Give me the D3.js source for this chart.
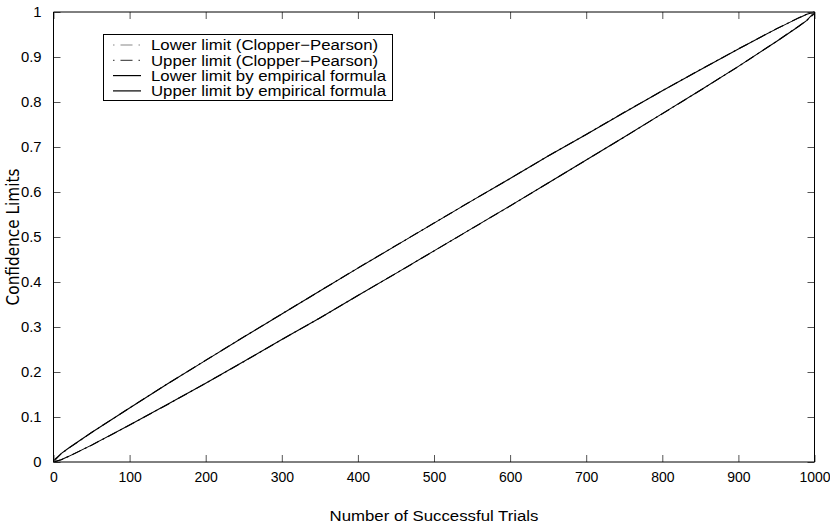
<!DOCTYPE html>
<html>
<head>
<meta charset="utf-8">
<script src="https://cdn.jsdelivr.net/npm/d3@7"></script>
<style>
  html, body { margin: 0; padding: 0; background: #fff; }
  svg { display: block; }
  text { font-family: "Liberation Sans", Arial, Helvetica, sans-serif; }
</style>
</head>
<body>
<svg id="chart" width="830" height="526"></svg>
<script>
// ---- data ----
const trials = [0, 10, 20, 50, 100, 150, 200, 250, 300, 350, 400, 450, 500, 550, 600, 650, 700, 750, 800, 850, 900, 950, 980, 990, 1000];
const lowerCP = [0, 0.0048, 0.0123, 0.0373, 0.0821, 0.128, 0.175, 0.223, 0.272, 0.320, 0.370, 0.419, 0.469, 0.519, 0.569, 0.620, 0.671, 0.722, 0.774, 0.826, 0.879, 0.9346, 0.9693, 0.9817, 0.9963];
const upperCP = [0.0037, 0.0183, 0.0307, 0.0654, 0.1203, 0.174, 0.226, 0.278, 0.329, 0.380, 0.431, 0.481, 0.531, 0.581, 0.630, 0.680, 0.728, 0.777, 0.825, 0.872, 0.918, 0.9627, 0.9877, 0.9952, 1];
const lowerEmp = [0, 0.0050, 0.0125, 0.0375, 0.0823, 0.1282, 0.1752, 0.2232, 0.2722, 0.3202, 0.3702, 0.4192, 0.4692, 0.5192, 0.5692, 0.6202, 0.6712, 0.7222, 0.7742, 0.8262, 0.8792, 0.9346, 0.9690, 0.9815, 1];
const upperEmp = [0, 0.0185, 0.0310, 0.0655, 0.1200, 0.1738, 0.2258, 0.2778, 0.3288, 0.3798, 0.4308, 0.4808, 0.5308, 0.5808, 0.6298, 0.6798, 0.7278, 0.7768, 0.8248, 0.8718, 0.9180, 0.9625, 0.9875, 0.9950, 1];
const xTicks = [0, 100, 200, 300, 400, 500, 600, 700, 800, 900, 1000];
const yTicks = [0, 0.1, 0.2, 0.3, 0.4, 0.5, 0.6, 0.7, 0.8, 0.9, 1];
const legendLabels = ["Lower limit (Clopper\u2212Pearson)", "Upper limit (Clopper\u2212Pearson)", "Lower limit by empirical formula", "Upper limit by empirical formula"];
const xTitle = "Number of Successful Trials";
const yTitle = "Confidence Limits";

// ---- layout ----
const svg = d3.select("#chart");
const L = 53.5, R = 814.5, T = 12, B = 462;
const x = d3.scaleLinear().domain([0, 1000]).range([L, R]);
const y = d3.scaleLinear().domain([0, 1]).range([B, T]);
const SX = 1.12; // horizontal stretch of the reference's text

const series = [
  { v: lowerCP, dash: "10,4,2,4", color: "#000" },
  { v: upperCP, dash: "10,4,2,4", color: "#000" },
  { v: lowerEmp, dash: null, color: "#000" },
  { v: upperEmp, dash: null, color: "#000" }
];

const line = d3.line().x(d => x(d[0])).y(d => y(d[1]));
series.forEach(s => {
  svg.append("path")
    .datum(trials.map((t, i) => [t, s.v[i]]))
    .attr("d", line)
    .attr("fill", "none")
    .attr("stroke", s.color)
    .attr("stroke-width", 1.1)
    .attr("stroke-dasharray", s.dash);
});

// ---- axes (ticks inward on all sides) ----
const tickLen = 7;
const fontSize = 14;
const xAxisB = d3.axisBottom(x).tickValues(xTicks).tickSizeInner(-tickLen).tickSizeOuter(0).tickPadding(tickLen + 3).tickFormat(d3.format("d"));
const xAxisT = d3.axisTop(x).tickValues(xTicks).tickSizeInner(-tickLen).tickSizeOuter(0).tickFormat("");
const yAxisL = d3.axisLeft(y).tickValues(yTicks).tickSizeInner(-tickLen).tickSizeOuter(0).tickPadding(tickLen + 5).tickFormat(d => d === 0 || d === 1 ? d3.format("d")(d) : d3.format(".1f")(d));
const yAxisR = d3.axisRight(y).tickValues(yTicks).tickSizeInner(-tickLen).tickSizeOuter(0).tickFormat("");

function style(g) {
  g.select(".domain").remove();
  g.selectAll(".tick line").attr("stroke", "#555").attr("stroke-width", 1);
  g.selectAll(".tick text").attr("fill", "#000").attr("font-size", fontSize);
}
function stretchX(g) {
  g.selectAll(".tick text").each(function () {
    const t = d3.select(this);
    const tx = +t.attr("x") || 0;
    t.attr("transform", `translate(${tx},0) scale(1.06,1) translate(${-tx},0)`);
  });
}
svg.append("g").attr("transform", `translate(0,${B})`).call(xAxisB).call(style);
svg.append("g").attr("transform", `translate(0,${T})`).call(xAxisT).call(style);
svg.append("g").attr("transform", `translate(${L},0)`).call(yAxisL).call(style).call(stretchX);
svg.append("g").attr("transform", `translate(${R},0)`).call(yAxisR).call(style);

// box
svg.append("line").attr("x1", L).attr("x2", R).attr("y1", T).attr("y2", T).attr("stroke", "#000").attr("stroke-width", 1);
svg.append("line").attr("x1", L).attr("x2", R).attr("y1", B).attr("y2", B).attr("stroke", "#000").attr("stroke-width", 1);
svg.append("line").attr("x1", L).attr("x2", L).attr("y1", T).attr("y2", B).attr("stroke", "#000").attr("stroke-width", 1);
svg.append("line").attr("x1", R).attr("x2", R).attr("y1", T).attr("y2", B).attr("stroke", "#000").attr("stroke-width", 1);

// titles
svg.append("text")
  .attr("transform", `translate(${(L + R) / 2},521) scale(${SX},1)`)
  .attr("text-anchor", "middle")
  .attr("font-size", 15)
  .text(xTitle);
svg.append("text")
  .attr("transform", `translate(19,${(T + B) / 2}) rotate(-90)`)
  .attr("text-anchor", "middle")
  .attr("font-size", 17)
  .style("font-family", "'Liberation Sans Narrow', 'DejaVu Sans Condensed', sans-serif")
  .style("font-stretch", "condensed")
  .text(yTitle);

// legend
const lg = svg.append("g");
const lgX = 103.5, lgY = 34.5, lgW = 289, lgH = 66;
lg.append("rect").attr("x", lgX).attr("y", lgY).attr("width", lgW).attr("height", lgH)
  .attr("fill", "#fff").attr("stroke", "#000").attr("stroke-width", 1);
const legendDash = ["1.5,6,12,6,1.5,100", "1.5,6,12,6,1.5,100", null, null];
const legendColor = ["#888", "#555", "#000", "#000"];
legendLabels.forEach((lab, i) => {
  const cy = lgY + 10.5 + i * 15.3;
  lg.append("line").attr("x1", 113).attr("x2", 141).attr("y1", cy).attr("y2", cy)
    .attr("stroke", legendColor[i]).attr("stroke-width", 1.2).attr("stroke-dasharray", legendDash[i]);
  lg.append("text").attr("transform", `translate(151,${cy}) scale(${SX},1)`).attr("dy", "0.36em")
    .attr("font-size", 15).text(lab);
});
</script>
</body>
</html>
